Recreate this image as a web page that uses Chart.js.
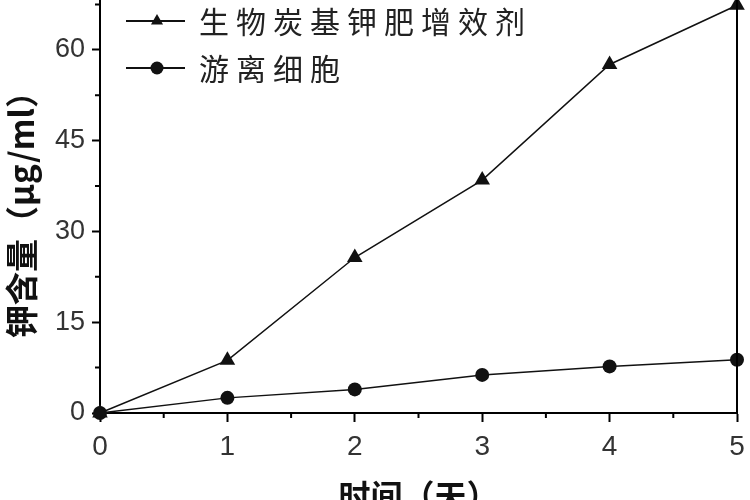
<!DOCTYPE html>
<html>
<head>
<meta charset="utf-8">
<script src="https://cdn.jsdelivr.net/npm/chart.js@4.4.1/dist/chart.umd.min.js"></script>
<style>
  html, body { margin: 0; padding: 0; background: #fff; }
</style>
</head>
<body>
<canvas id="chart1" width="750" height="500"></canvas>
<script>
// data
const days = [0, 1, 2, 3, 4, 5]
const enhancerValues = [0, 8.7, 25.7, 38.5, 57.6, 67.4]
const freeCellValues = [0, 2.5, 3.9, 6.3, 7.7, 8.8]
const seriesNames = ['生物炭基钾肥增效剂', '游离细胞']
const yTicks = [0, 15, 30, 45, 60]
const yMinorTicks = [7.5, 22.5, 37.5, 52.5, 67.5]
const xTicks = [0, 1, 2, 3, 4, 5]
const xMinorTicks = [0.5, 1.5, 2.5, 3.5, 4.5]

const toPoints = (vals) => days.map((d, i) => ({ x: d, y: vals[i] }))

// minor ticks + right frame line
const axisExtras = {
  id: 'axisExtras',
  afterDraw(chart) {
    const { ctx, chartArea, scales } = chart
    ctx.save()
    ctx.strokeStyle = '#000'
    ctx.lineWidth = 2
    ctx.beginPath()
    yMinorTicks.forEach(v => {
      let py = scales.y.getPixelForValue(v)
      ctx.moveTo(chartArea.left, py)
      ctx.lineTo(chartArea.left - 5, py)
    })
    xMinorTicks.forEach(v => {
      let px = scales.x.getPixelForValue(v)
      ctx.moveTo(px, chartArea.bottom)
      ctx.lineTo(px, chartArea.bottom + 5)
    })
    let rx = scales.x.getPixelForValue(5)
    ctx.moveTo(rx, 0)
    ctx.lineTo(rx, chartArea.bottom)
    ctx.stroke()
    ctx.restore()
  }
}

// line + marker legend like the original
const lineLegend = {
  id: 'lineLegend',
  afterDraw(chart) {
    const { ctx } = chart
    const rows = [21, 68]
    ctx.save()
    chart.data.datasets.forEach((ds, i) => {
      let y = rows[i]
      ctx.strokeStyle = ds.borderColor
      ctx.fillStyle = ds.pointBackgroundColor
      ctx.lineWidth = 2
      ctx.beginPath()
      ctx.moveTo(126, y)
      ctx.lineTo(185, y)
      ctx.stroke()
      ctx.beginPath()
      if (ds.pointStyle === 'triangle') {
        let r = 7
        ctx.moveTo(157, y - r)
        ctx.lineTo(157 + r * 0.866, y + r * 0.5)
        ctx.lineTo(157 - r * 0.866, y + r * 0.5)
        ctx.closePath()
      } else {
        ctx.arc(157, y, 6.5, 0, Math.PI * 2)
      }
      ctx.fill()
      ctx.fillStyle = '#222'
      ctx.font = '30px "Noto Sans CJK SC"'
      if ('letterSpacing' in ctx) ctx.letterSpacing = '7px'
      ctx.textBaseline = 'middle'
      ctx.textAlign = 'left'
      ctx.fillText(ds.label, 199, y + 1)
      if ('letterSpacing' in ctx) ctx.letterSpacing = '0px'
    })
    ctx.restore()
  }
}

let ctx = document.getElementById('chart1').getContext('2d')

new Chart(ctx, {
  type: 'line',
  data: {
    datasets: [{
      label: seriesNames[0],
      data: toPoints(enhancerValues),
      borderColor: '#111',
      backgroundColor: '#111',
      pointBackgroundColor: '#111',
      pointBorderColor: '#111',
      borderWidth: 1.5,
      pointStyle: 'triangle',
      pointRadius: 9,
      pointBorderWidth: 0,
      clip: false
    }, {
      label: seriesNames[1],
      data: toPoints(freeCellValues),
      borderColor: '#111',
      backgroundColor: '#111',
      pointBackgroundColor: '#111',
      pointBorderColor: '#111',
      borderWidth: 1.5,
      pointStyle: 'circle',
      pointRadius: 7,
      pointBorderWidth: 0,
      clip: false
    }]
  },
  options: {
    responsive: false,
    animation: false,
    layout: { autoPadding: false, padding: { top: 0, right: 13, bottom: 0, left: 0 } },
    plugins: {
      legend: { display: false },
      tooltip: { enabled: false }
    },
    scales: {
      x: {
        type: 'linear',
        min: 0,
        max: 5,
        afterBuildTicks: (scale) => { scale.ticks = xTicks.map(v => ({ value: v })) },
        afterFit: (scale) => {
          scale.height = 87
          scale.paddingLeft = 0
          scale.paddingRight = 0
        },
        grid: { drawOnChartArea: false, drawTicks: true, tickLength: 9, tickColor: '#000', tickWidth: 2 },
        border: { display: true, color: '#000', width: 2 },
        ticks: {
          color: '#333',
          padding: 8,
          maxRotation: 0,
          font: { family: '"Liberation Sans", Arial', size: 28 }
        },
        title: {
          display: true,
          text: '时间（天）',
          color: '#111',
          padding: { top: 0, bottom: -12 },
          font: { family: '"Noto Sans CJK SC"', size: 32, weight: 'bold', lineHeight: 1 }
        }
      },
      y: {
        min: 0,
        max: 68.26,
        afterBuildTicks: (scale) => { scale.ticks = yTicks.map(v => ({ value: v })) },
        afterFit: (scale) => {
          scale.width = 100
          scale.paddingTop = 0
          scale.paddingBottom = 0
        },
        grid: { drawOnChartArea: false, drawTicks: true, tickLength: 8, tickColor: '#000', tickWidth: 2 },
        border: { display: true, color: '#000', width: 2 },
        ticks: {
          color: '#333',
          padding: 7,
          font: { family: '"Liberation Sans", Arial', size: 27 }
        },
        title: {
          display: true,
          text: '钾含量（μg/ml）',
          color: '#111',
          padding: { top: 3, bottom: 0 },
          font: { family: '"Noto Sans CJK SC"', size: 33, weight: 'bold', lineHeight: 1.1 }
        }
      }
    }
  },
  plugins: [axisExtras, lineLegend]
})
</script>
</body>
</html>
